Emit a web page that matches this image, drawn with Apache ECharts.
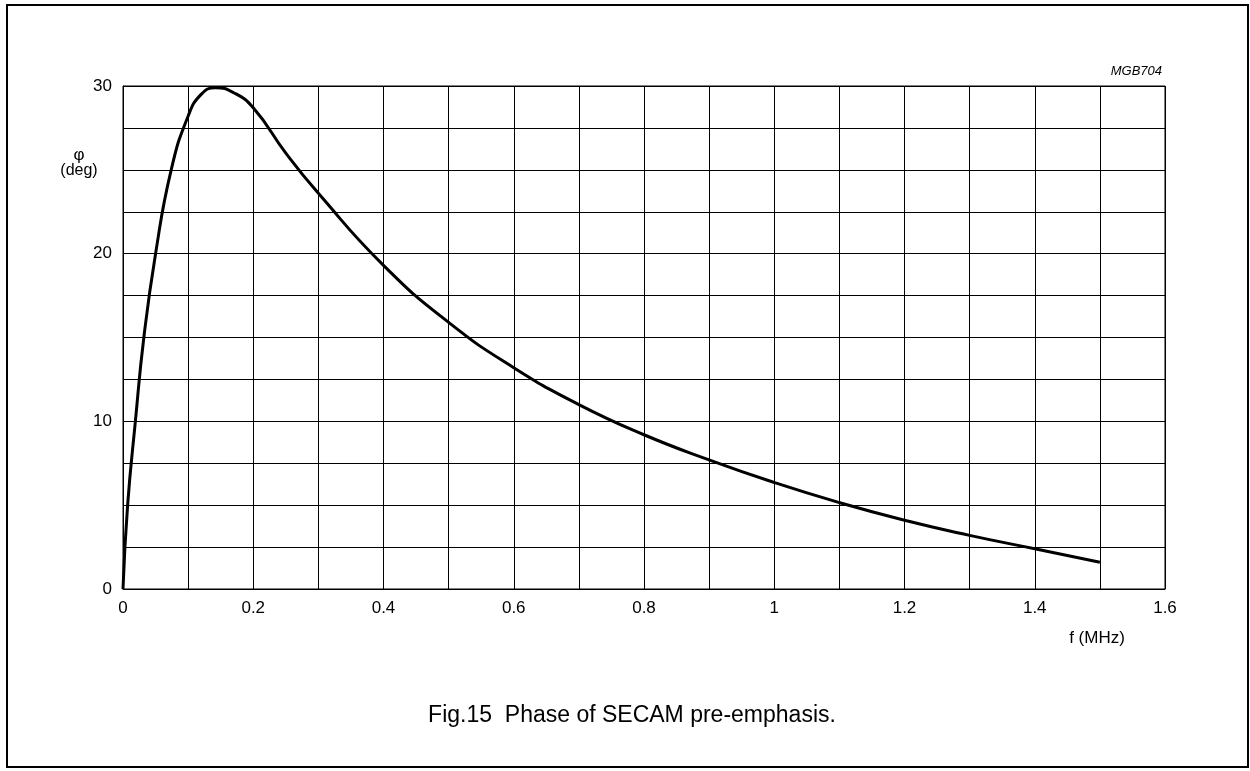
<!DOCTYPE html>
<html>
<head>
<meta charset="utf-8">
<script src="https://cdn.jsdelivr.net/npm/echarts@6/dist/echarts.min.js"></script>
<style>
html,body{margin:0;padding:0;background:#fff;}
#chart{width:1250px;height:771px;}
</style>
</head>
<body>
<div id="chart"></div>
<script>
// frequency (MHz)
const freqMHz = [0, 0.0071, 0.019, 0.032, 0.050, 0.074, 0.1, 0.12, 0.142, 0.17, 0.2, 0.25, 0.3, 0.4, 0.5, 0.6, 0.7, 0.8, 0.9, 1.0, 1.1, 1.2, 1.3, 1.4, 1.5];
// phase (deg)
const phaseDeg = [0, 5, 10, 15, 20, 25, 28.2, 29.5, 29.9, 29.6, 28.7, 26.0, 23.6, 19.3, 15.9, 13.2, 11.0, 9.2, 7.7, 6.35, 5.15, 4.1, 3.2, 2.4, 1.6];
const xTickLabels = ['0', '0.2', '0.4', '0.6', '0.8', '1', '1.2', '1.4', '1.6'];
const yTickLabels = ['0', '10', '20', '30'];

const FONT = '"Liberation Sans", Arial, Helvetica, sans-serif';
const chart = echarts.init(document.getElementById('chart'), null, {renderer: 'canvas'});

function xLabel(v) {
  const k = Math.round(v * 10);
  if (k % 2 !== 0) return '';
  return xTickLabels[k / 2] || '';
}
function yLabel(v) {
  const k = Math.round(v / 2.5);
  if (k % 4 !== 0) return '';
  return yTickLabels[k / 4] || '';
}

chart.setOption({
  backgroundColor: '#fff',
  animation: false,
  grid: {left: 123, right: 85, top: 86, bottom: 182, show: true, borderColor: '#000', borderWidth: 1},
  xAxis: {
    type: 'value', min: 0, max: 1.6, interval: 0.1,
    axisLine: {show: true, lineStyle: {color: '#000', width: 1}},
    axisTick: {show: false},
    splitLine: {show: true, lineStyle: {color: '#000', width: 1}},
    axisLabel: {formatter: xLabel, color: '#000', fontSize: 17, fontFamily: FONT, margin: 11}
  },
  yAxis: {
    type: 'value', min: 0, max: 30, interval: 2.5,
    axisLine: {show: true, lineStyle: {color: '#000', width: 1}},
    axisTick: {show: false},
    splitLine: {show: true, lineStyle: {color: '#000', width: 1}},
    axisLabel: {formatter: yLabel, color: '#000', fontSize: 17, fontFamily: FONT, margin: 11}
  },
  series: [{
    type: 'line',
    data: freqMHz.map((f, i) => [f, phaseDeg[i]]),
    smooth: 0.5,
    showSymbol: false,
    lineStyle: {color: '#000', width: 3},
    z: 5
  }],
  graphic: [
    {type: 'rect', shape: {x: 7, y: 5, width: 1241, height: 762}, style: {fill: 'none', stroke: '#000', lineWidth: 2}},
    {type: 'text', x: 1162, y: 71, style: {text: 'MGB704', font: 'italic 13px ' + FONT, fill: '#000', textAlign: 'right', textVerticalAlign: 'middle'}},
    {type: 'text', x: 79, y: 155, style: {text: 'φ', font: '17px ' + FONT, fill: '#000', textAlign: 'center', textVerticalAlign: 'middle'}},
    {type: 'text', x: 79, y: 171, style: {text: '(deg)', font: '16px ' + FONT, fill: '#000', textAlign: 'center', textVerticalAlign: 'middle'}},
    {type: 'text', x: 1097, y: 638, style: {text: 'f (MHz)', font: '17px ' + FONT, fill: '#000', textAlign: 'center', textVerticalAlign: 'middle'}},
    {type: 'text', x: 632, y: 716, style: {text: 'Fig.15  Phase of SECAM pre-emphasis.', font: '23px ' + FONT, fill: '#000', textAlign: 'center', textVerticalAlign: 'middle'}}
  ]
});
</script>
</body>
</html>
